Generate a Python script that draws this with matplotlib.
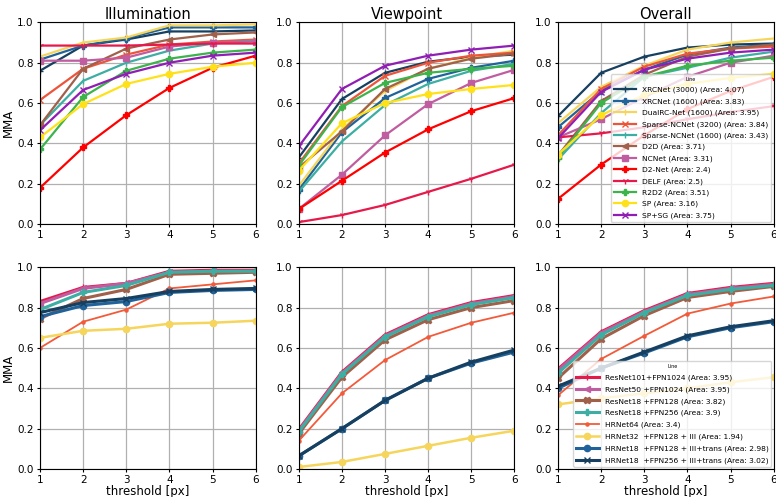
import matplotlib
matplotlib.use("Agg")
import matplotlib.pyplot as plt

thresholds = [1, 2, 3, 4, 5, 6]
panel_titles = ["Illumination", "Viewpoint", "Overall"]

# top row: baseline methods
top_names = ["XRCNet (3000) (Area: 4.07)", "XRCNet (1600) (Area: 3.83)",
             "DualRC-Net (1600) (Area: 3.95)", "Sparse-NCNet (3200) (Area: 3.84)",
             "Sparse-NCNet (1600) (Area: 3.43)", "D2D (Area: 3.71)",
             "NCNet (Area: 3.31)", "D2-Net (Area: 2.4)", "DELF (Area: 2.5)",
             "R2D2 (Area: 3.51)", "SP (Area: 3.16)", "SP+SG (Area: 3.75)"]
top_illum = [
    [0.76, 0.885, 0.915, 0.955, 0.955, 0.96],
    [0.815, 0.885, 0.92, 0.975, 0.975, 0.975],
    [0.83, 0.90, 0.925, 0.985, 0.985, 0.99],
    [0.615, 0.77, 0.84, 0.89, 0.905, 0.915],
    [0.49, 0.71, 0.80, 0.86, 0.895, 0.91],
    [0.49, 0.77, 0.87, 0.915, 0.94, 0.95],
    [0.81, 0.81, 0.825, 0.88, 0.90, 0.905],
    [0.18, 0.38, 0.54, 0.675, 0.775, 0.835],
    [0.885, 0.885, 0.885, 0.89, 0.895, 0.895],
    [0.37, 0.63, 0.76, 0.82, 0.85, 0.865],
    [0.43, 0.595, 0.695, 0.745, 0.78, 0.80],
    [0.465, 0.665, 0.745, 0.80, 0.835, 0.85],
]
top_view = [
    [0.33, 0.62, 0.75, 0.805, 0.83, 0.84],
    [0.17, 0.455, 0.625, 0.72, 0.775, 0.81],
    [0.19, 0.47, 0.66, 0.77, 0.825, 0.86],
    [0.30, 0.585, 0.735, 0.80, 0.835, 0.85],
    [0.16, 0.41, 0.59, 0.695, 0.76, 0.795],
    [0.28, 0.46, 0.67, 0.77, 0.82, 0.845],
    [0.075, 0.245, 0.44, 0.595, 0.70, 0.765],
    [0.075, 0.215, 0.355, 0.47, 0.56, 0.625],
    [0.01, 0.045, 0.095, 0.16, 0.225, 0.295],
    [0.29, 0.58, 0.70, 0.75, 0.77, 0.785],
    [0.265, 0.50, 0.60, 0.645, 0.67, 0.69],
    [0.385, 0.67, 0.785, 0.835, 0.865, 0.885],
]
top_overall = [
    [0.535, 0.75, 0.83, 0.875, 0.89, 0.895],
    [0.48, 0.66, 0.765, 0.84, 0.875, 0.89],
    [0.50, 0.68, 0.785, 0.865, 0.90, 0.92],
    [0.44, 0.67, 0.78, 0.845, 0.87, 0.88],
    [0.32, 0.55, 0.73, 0.775, 0.825, 0.855],
    [0.34, 0.61, 0.74, 0.83, 0.87, 0.89],
    [0.43, 0.52, 0.63, 0.73, 0.80, 0.835],
    [0.125, 0.295, 0.44, 0.57, 0.66, 0.73],
    [0.43, 0.45, 0.48, 0.52, 0.555, 0.585],
    [0.33, 0.60, 0.73, 0.785, 0.81, 0.825],
    [0.345, 0.54, 0.64, 0.695, 0.725, 0.745],
    [0.425, 0.655, 0.765, 0.82, 0.85, 0.865],
]
top_colors = ["#173F5F", "#20639B", "#F6D55C", "#ED553B", "#3CAEA3", "#A0604A",
              "#C05CA0", "#FF0000", "#E6194B", "#3CB44B", "#FFE119", "#911EB4"]
top_markers = ["+", "P", "|", "x", "|", "<", "s", "P", "1", "P", "o", "x"]

# bottom row: backbone ablation
bot_names = ["ResNet101+FPN1024 (Area: 3.95)", "ResNet50 +FPN1024 (Area: 3.95)",
             "ResNet18 +FPN128 (Area: 3.82)", "ResNet18 +FPN256 (Area: 3.9)",
             "HRNet64 (Area: 3.4)", "HRNet32  +FPN128 + III (Area: 1.94)",
             "HRNet18  +FPN128 + III+trans (Area: 2.98)",
             "HRNet18  +FPN256 + III+trans (Area: 3.02)"]
bot_illum = [
    [0.83, 0.90, 0.92, 0.98, 0.985, 0.985],
    [0.82, 0.895, 0.92, 0.975, 0.98, 0.98],
    [0.745, 0.845, 0.89, 0.965, 0.97, 0.975],
    [0.79, 0.875, 0.91, 0.975, 0.98, 0.98],
    [0.60, 0.73, 0.79, 0.895, 0.915, 0.935],
    [0.65, 0.685, 0.695, 0.72, 0.725, 0.735],
    [0.755, 0.81, 0.83, 0.875, 0.885, 0.89],
    [0.775, 0.825, 0.845, 0.88, 0.89, 0.895],
]
bot_view = [
    [0.195, 0.48, 0.665, 0.765, 0.825, 0.86],
    [0.19, 0.475, 0.66, 0.76, 0.82, 0.855],
    [0.175, 0.455, 0.64, 0.74, 0.80, 0.835],
    [0.185, 0.47, 0.655, 0.755, 0.815, 0.85],
    [0.14, 0.375, 0.54, 0.655, 0.725, 0.775],
    [0.01, 0.035, 0.075, 0.115, 0.155, 0.19],
    [0.065, 0.20, 0.34, 0.45, 0.525, 0.58],
    [0.065, 0.20, 0.34, 0.45, 0.53, 0.59],
]
bot_overall = [
    [0.495, 0.68, 0.785, 0.87, 0.90, 0.92],
    [0.49, 0.675, 0.78, 0.865, 0.895, 0.915],
    [0.45, 0.645, 0.76, 0.85, 0.88, 0.905],
    [0.475, 0.665, 0.775, 0.86, 0.89, 0.91],
    [0.365, 0.545, 0.66, 0.77, 0.82, 0.855],
    [0.32, 0.35, 0.375, 0.40, 0.43, 0.455],
    [0.40, 0.50, 0.575, 0.655, 0.70, 0.73],
    [0.41, 0.50, 0.58, 0.66, 0.705, 0.735],
]
bot_colors = ["#E6194B", "#C05CA0", "#A0604A", "#3CAEA3", "#F25A3A",
              "#F6D55C", "#20639B", "#173F5F"]
bot_markers = ["+", "<", "X", "P", ".", "o", "o", "x"]
bot_widths = [2.2, 2.2, 2.2, 2.2, 1.3, 1.8, 2.2, 2.2]

fig = plt.figure(figsize=(7.76, 4.97), dpi=100)
lefts = [0.0515, 0.385, 0.719]
w, h = 0.278, 0.406
rows = [
    (0.549, [top_illum, top_view, top_overall], top_names, top_colors, top_markers, [1.6] * 12, 0.62),
    (0.0563, [bot_illum, bot_view, bot_overall], bot_names, bot_colors, bot_markers, bot_widths, 0.68),
]

for r, (bottom, panels, names, colors, markers, widths, spacing) in enumerate(rows):
    for c, data in enumerate(panels):
        ax = fig.add_axes([lefts[c], bottom, w, h])
        for i, ys in enumerate(data):
            ax.plot(thresholds, ys, color=colors[i], marker=markers[i], lw=widths[i],
                    ms=4.5, label=names[i])
        ax.set_xlim(1, 6)
        ax.set_ylim(0, 1)
        ax.set_xticks(thresholds)
        ax.set_yticks([0, 0.2, 0.4, 0.6, 0.8, 1.0])
        ax.tick_params(labelsize=7.5, length=2.5, pad=2)
        ax.grid(True, color="#b0b0b0", lw=0.9)
        if r == 0:
            ax.set_title(panel_titles[c], fontsize=10.5, pad=2)
        else:
            ax.set_xlabel("threshold [px]", fontsize=8.5, labelpad=0)
        if c == 0:
            ax.set_ylabel("MMA", fontsize=8.5, labelpad=2)
        if c == 2:
            leg = ax.legend(title="Line", loc="lower right", fontsize=5.4,
                            title_fontsize=3.5, framealpha=0.8, borderaxespad=0.3,
                            handlelength=3.0, labelspacing=spacing)

fig.savefig("out.png", dpi=100)
